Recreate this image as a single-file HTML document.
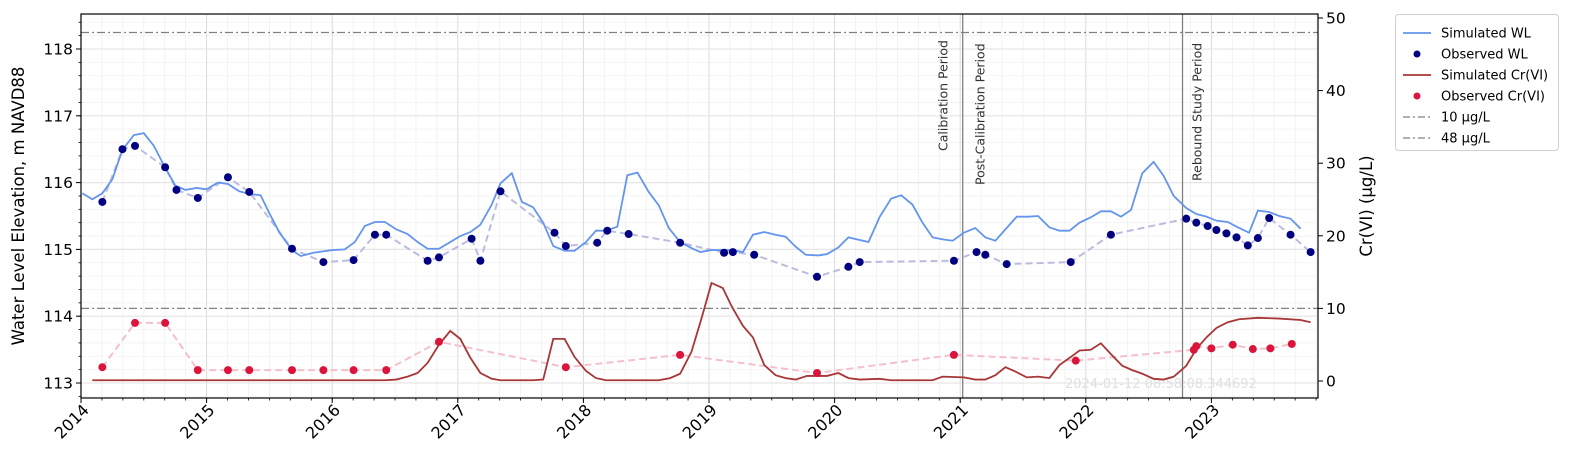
<!DOCTYPE html>
<html><head><meta charset="utf-8"><style>
html,body{margin:0;padding:0;background:#fff;}
svg{display:block;font-family:"DejaVu Sans","Liberation Sans",sans-serif;}
</style></head><body>
<svg id="chart" width="1572" height="467" viewBox="0 0 1572 467" xmlns="http://www.w3.org/2000/svg"></svg>
<script>
const simWLDates=[2014.01,2014.09,2014.17,2014.25,2014.33,2014.42,2014.5,2014.58,2014.66,2014.75,2014.83,2014.92,2015.0,2015.09,2015.17,2015.26,2015.34,2015.43,2015.5,2015.58,2015.68,2015.75,2015.85,2016.0,2016.1,2016.18,2016.26,2016.34,2016.42,2016.51,2016.6,2016.68,2016.76,2016.85,2016.94,2017.02,2017.1,2017.18,2017.27,2017.34,2017.43,2017.51,2017.6,2017.68,2017.76,2017.85,2017.93,2018.02,2018.1,2018.18,2018.27,2018.35,2018.43,2018.52,2018.6,2018.68,2018.77,2018.86,2018.93,2019.02,2019.18,2019.27,2019.35,2019.44,2019.53,2019.61,2019.69,2019.77,2019.87,2019.94,2020.03,2020.11,2020.27,2020.36,2020.45,2020.53,2020.62,2020.7,2020.78,2020.86,2020.94,2021.03,2021.12,2021.2,2021.28,2021.36,2021.45,2021.54,2021.62,2021.71,2021.79,2021.87,2021.95,2022.04,2022.12,2022.2,2022.28,2022.36,2022.45,2022.54,2022.62,2022.7,2022.8,2022.88,2022.96,2023.04,2023.13,2023.21,2023.3,2023.37,2023.46,2023.54,2023.63,2023.71];
const simWLValues=[115.84,115.75,115.84,116.05,116.49,116.71,116.74,116.55,116.26,115.96,115.89,115.92,115.9,116.0,115.98,115.87,115.83,115.81,115.54,115.25,114.99,114.9,114.95,114.99,115.0,115.11,115.35,115.41,115.41,115.3,115.23,115.11,115.01,115.01,115.11,115.2,115.26,115.37,115.67,115.99,116.14,115.71,115.63,115.4,115.05,114.98,114.98,115.11,115.28,115.28,115.34,116.11,116.15,115.86,115.66,115.32,115.11,115.02,114.96,114.99,114.99,114.96,115.22,115.26,115.22,115.19,115.04,114.92,114.91,114.93,115.03,115.18,115.11,115.49,115.76,115.81,115.67,115.4,115.18,115.15,115.13,115.25,115.32,115.18,115.13,115.3,115.49,115.49,115.5,115.33,115.28,115.28,115.4,115.48,115.57,115.57,115.49,115.59,116.14,116.31,116.1,115.8,115.62,115.53,115.49,115.43,115.41,115.33,115.25,115.58,115.56,115.5,115.46,115.31];
const obsWLDates=[2014.17,2014.33,2014.43,2014.67,2014.76,2014.93,2015.17,2015.34,2015.68,2015.93,2016.17,2016.34,2016.43,2016.76,2016.85,2017.11,2017.18,2017.34,2017.77,2017.86,2018.11,2018.19,2018.36,2018.77,2019.12,2019.19,2019.36,2019.86,2020.11,2020.2,2020.95,2021.13,2021.2,2021.37,2021.88,2022.2,2022.8,2022.88,2022.97,2023.04,2023.12,2023.2,2023.29,2023.37,2023.46,2023.63,2023.79];
const obsWLValues=[115.71,116.5,116.55,116.23,115.89,115.77,116.08,115.86,115.01,114.81,114.84,115.22,115.22,114.83,114.88,115.16,114.83,115.87,115.25,115.05,115.1,115.28,115.23,115.1,114.95,114.96,114.92,114.59,114.74,114.81,114.83,114.96,114.92,114.78,114.81,115.22,115.46,115.4,115.35,115.29,115.24,115.18,115.06,115.17,115.47,115.22,114.96];
const simCrDates=[2014.09,2016.42,2016.51,2016.6,2016.68,2016.76,2016.85,2016.94,2017.02,2017.1,2017.18,2017.27,2017.34,2017.6,2017.68,2017.76,2017.85,2017.93,2018.02,2018.1,2018.18,2018.6,2018.69,2018.77,2018.86,2018.94,2019.02,2019.11,2019.18,2019.27,2019.35,2019.44,2019.53,2019.61,2019.69,2019.78,2019.94,2020.03,2020.11,2020.2,2020.36,2020.45,2020.78,2020.86,2021.03,2021.12,2021.2,2021.28,2021.36,2021.44,2021.53,2021.62,2021.71,2021.79,2021.88,2021.95,2022.04,2022.12,2022.2,2022.29,2022.37,2022.45,2022.54,2022.62,2022.7,2022.8,2022.88,2022.96,2023.04,2023.13,2023.22,2023.37,2023.54,2023.71,2023.79];
const simCrValues=[0.1,0.1,0.2,0.6,1.1,2.5,5.0,6.9,5.8,3.2,1.1,0.3,0.1,0.1,0.2,5.8,5.8,3.3,1.4,0.4,0.1,0.1,0.4,1.0,4.0,8.6,13.5,12.8,10.3,7.6,6.0,2.2,0.8,0.4,0.2,0.7,0.7,1.1,0.4,0.2,0.3,0.1,0.1,0.6,0.5,0.2,0.2,0.8,1.9,1.3,0.5,0.6,0.4,2.2,3.3,4.2,4.3,5.2,3.7,2.1,1.5,1.0,0.3,0.2,0.6,2.1,4.4,6.0,7.3,8.1,8.5,8.7,8.6,8.4,8.1];
const obsCrDates=[2014.17,2014.43,2014.67,2014.93,2015.17,2015.34,2015.68,2015.93,2016.17,2016.43,2016.85,2017.86,2018.77,2019.86,2020.95,2021.92,2022.86,2022.88,2023.0,2023.17,2023.33,2023.47,2023.64];
const obsCrValues=[1.9,8.0,8.0,1.5,1.5,1.5,1.5,1.5,1.5,1.5,5.4,1.9,3.6,1.1,3.6,2.8,4.3,4.8,4.5,5.0,4.4,4.5,5.1];
const xTickLabels=[2014,2015,2016,2017,2018,2019,2020,2021,2022,2023];
const leftTickLabels=[113,114,115,116,117,118];
const rightTickLabels=[0,10,20,30,40,50];
const thresholds=[10,48];
const periodDates=[2021.02,2022.77];

const L=81,R=1318,T=14,B=398;
const X=t=>L+(t-2014)*125.6;
const YL=v=>383-(v-113)*66.8;
const YR=v=>381-v*7.26;
const NS="http://www.w3.org/2000/svg";
const svg=document.getElementById('chart');
function mk(tag,attrs,parent){const e=document.createElementNS(NS,tag);for(const k in attrs)e.setAttribute(k,attrs[k]);(parent||svg).appendChild(e);return e;}

const grid=mk('g',{});


for(let m=2014;m<=2023.85;m+=1/6){const x=X(m);mk('line',{x1:x,x2:x,y1:T,y2:B,stroke:'#f0f0f0','stroke-width':0.8},grid);}
for(let v=112.8;v<=118.5;v+=0.2){mk('line',{x1:L,x2:R,y1:YL(v),y2:YL(v),stroke:'#f2f2f2','stroke-width':0.8},grid);}
xTickLabels.forEach(t=>mk('line',{x1:X(t),x2:X(t),y1:T,y2:B,stroke:'#dcdcdc','stroke-width':1},grid));
leftTickLabels.forEach(v=>mk('line',{x1:L,x2:R,y1:YL(v),y2:YL(v),stroke:'#e6e6e6','stroke-width':1.2},grid));

thresholds.forEach(v=>{const l=mk('line',{x1:L,x2:R,y1:YR(v),y2:YR(v),stroke:'#808080','stroke-width':1.2,'stroke-dasharray':'8 3 2 3'});

});

periodDates.forEach((t,i)=>{const l=mk('line',{x1:X(t),x2:X(t),y1:T,y2:B,stroke:'#808080','stroke-width':1.3});

});
function vtext(x,y,s,name){const e=mk('text',{x:0,y:0,transform:`translate(${x},${y}) rotate(-90)`,'font-size':12.5,fill:'#333'});e.textContent=s;

}
vtext(X(periodDates[0])-15,151,'Calibration Period','calibration-period-label');
vtext(X(periodDates[0])+22,185,'Post-Calibration Period','post-calibration-period-label');
vtext(X(periodDates[1])+19,181,'Rebound Study Period','rebound-study-period-label');

const ts=mk('text',{x:1065,y:388,'font-size':13,fill:'#e0e0e0'});ts.textContent='2024-01-12 08:58:08.344692';



function poly(dates,vals,Y,attrs,name){const p=mk('polyline',Object.assign({points:dates.map((d,i)=>X(d)+','+Y(vals[i])).join(' '),fill:'none'},attrs));

}
function dots(dates,vals,Y,color,name){const g=mk('g',{});


dates.forEach((d,i)=>mk('circle',{cx:X(d),cy:Y(vals[i]),r:4,fill:color},g));}

poly(obsWLDates,obsWLValues,YL,{stroke:'#bcbce0','stroke-width':2,'stroke-dasharray':'7 4'},'observed-wl-connector');
poly(obsCrDates,obsCrValues,YR,{stroke:'#f4c0cc','stroke-width':2,'stroke-dasharray':'7 4'},'observed-crvi-connector');
poly(simWLDates,simWLValues,YL,{stroke:'#6495ed','stroke-width':1.8},'simulated-wl-line');
poly(simCrDates,simCrValues,YR,{stroke:'#a83636','stroke-width':1.8},'simulated-crvi-line');
dots(obsWLDates,obsWLValues,YL,'#000080','observed-wl-points');
dots(obsCrDates,obsCrValues,YR,'#dc143c','observed-crvi-points');

const fr=mk('rect',{x:L,y:T,width:R-L,height:B-T,fill:'none',stroke:'#000','stroke-width':1.2});



const xa=mk('g',{});


for(let m=2014;m<=2023.85;m+=1/6){mk('line',{x1:X(m),x2:X(m),y1:B,y2:B+2.5,stroke:'#000','stroke-width':0.8},xa);}
xTickLabels.forEach(t=>{mk('line',{x1:X(t),x2:X(t),y1:B,y2:B+5,stroke:'#000','stroke-width':1},xa);
const e=mk('text',{x:0,y:0,transform:`translate(${X(t)+9},${B+13}) rotate(-45)`,'text-anchor':'end','font-size':16,fill:'#000'},xa);e.textContent=t;});

const ya=mk('g',{});


for(let v=112.8;v<=118.5;v+=0.2){mk('line',{x1:L-2.5,x2:L,y1:YL(v),y2:YL(v),stroke:'#000','stroke-width':0.8},ya);}
leftTickLabels.forEach(v=>{mk('line',{x1:L-5,x2:L,y1:YL(v),y2:YL(v),stroke:'#000'},ya);
const e=mk('text',{x:L-8,y:YL(v)+5.5,'text-anchor':'end','font-size':15.5},ya);e.textContent=v;});
const yt=mk('text',{x:0,y:0,transform:'translate(24,206) rotate(-90)','text-anchor':'middle','font-size':16.5});yt.textContent='Water Level Elevation, m NAVD88';



const ra=mk('g',{});


rightTickLabels.forEach(v=>{mk('line',{x1:R,x2:R+5,y1:YR(v),y2:YR(v),stroke:'#000'},ra);
const e=mk('text',{x:R+8,y:YR(v)+5.5,'font-size':15.5},ra);e.textContent=v;});
const rt=mk('text',{x:0,y:0,transform:'translate(1372,206) rotate(-90)','text-anchor':'middle','font-size':16.5});rt.textContent='Cr(VI) (µg/L)';



const lg=mk('g',{});


mk('rect',{x:1395.5,y:14.5,width:163,height:136,rx:3,fill:'#fff',stroke:'#d0d0d0'},lg);
const items=[['Simulated WL','line','#6495ed'],['Observed WL','dot','#000080'],['Simulated Cr(VI)','line','#a83636'],['Observed Cr(VI)','dot','#dc143c'],['10 µg/L','dash','#808080'],['48 µg/L','dash','#808080']];
items.forEach((it,i)=>{const y=33+i*21;const g=mk('g',{},lg);


if(it[1]==='line')mk('line',{x1:1403,x2:1431,y1:y,y2:y,stroke:it[2],'stroke-width':1.8},g);
else if(it[1]==='dot')mk('circle',{cx:1417,cy:y,r:3.5,fill:it[2]},g);
else mk('line',{x1:1403,x2:1431,y1:y,y2:y,stroke:it[2],'stroke-width':1.2,'stroke-dasharray':'7 3 2 3'},g);
const t=mk('text',{x:1441,y:y+4.5,'font-size':13},g);t.textContent=it[0];});
</script>
</body></html>
